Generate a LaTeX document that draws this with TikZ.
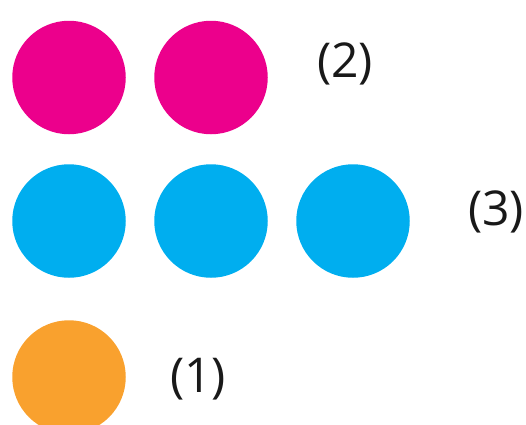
\documentclass[tikz,border=0pt]{standalone}
\usepackage{fontspec}
\setmainfont{Open Sans}
\usetikzlibrary{positioning}

\definecolor{dotmagenta}{HTML}{EC008C}
\definecolor{dotcyan}{HTML}{00AEEF}
\definecolor{dotorange}{HTML}{F9A12E}

\begin{document}
\begin{tikzpicture}[x=1pt,y=1pt,
  dot/.style={circle,minimum size=113.5pt,inner sep=0pt,draw=none},
  count/.style={font=\fontsize{48}{58}\selectfont,text=black!90}]
\useasboundingbox (0,0) rectangle (526,-424);
\clip (0,0) rectangle (526,-424);

% Row of two
\foreach \i in {0,1}
  \node[dot,fill=dotmagenta] (m\i) at (69+142*\i,-77.5) {};
\node[count] (lab2) at (345,-64) {(2)};

% Row of three
\foreach \i in {0,1,2}
  \node[dot,fill=dotcyan] (c\i) at (69+142*\i,-221) {};
\node[count] (lab3) at (496,-212) {(3)};

% Single
\node[dot,fill=dotorange] (o0) at (69,-377) {};
\node[count] (lab1) at (198,-379) {(1)};
\end{tikzpicture}
\end{document}
